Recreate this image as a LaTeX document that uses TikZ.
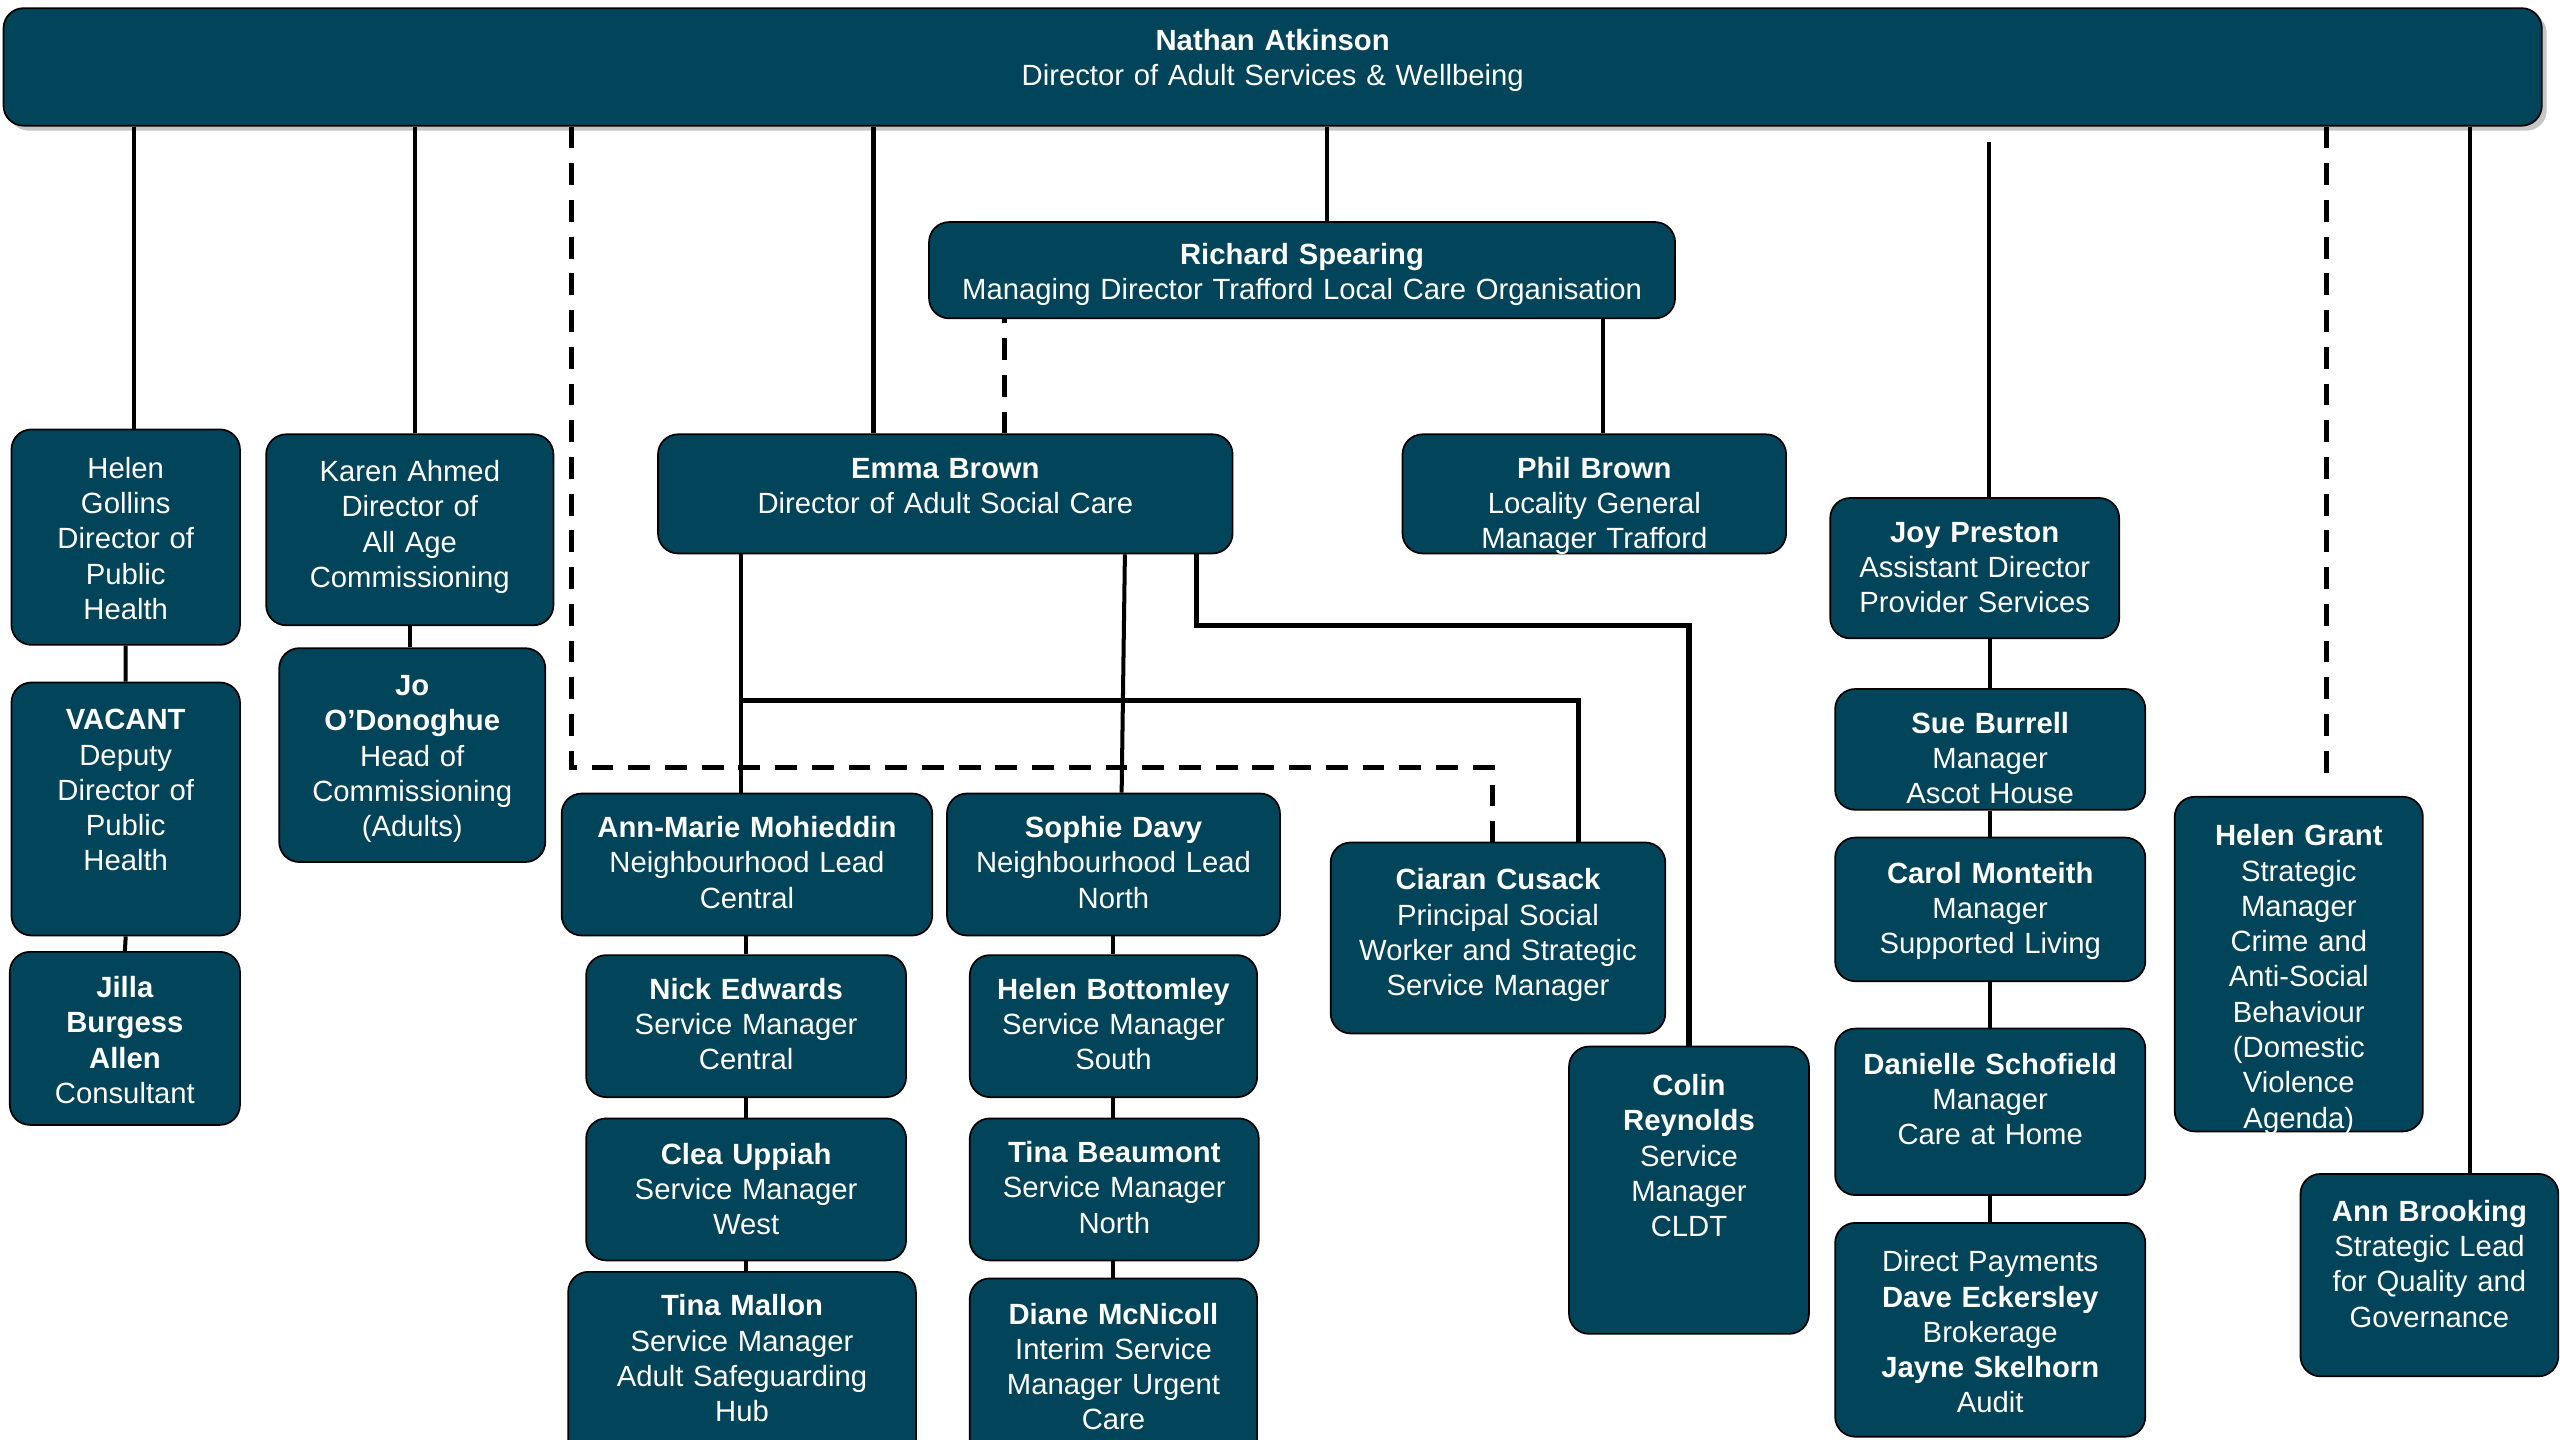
\documentclass[tikz,border=0pt]{standalone}
\usepackage{fontspec}
\setmainfont{Liberation Sans}
\usetikzlibrary{shadows}
\definecolor{postfill}{HTML}{02455A}

\tikzset{
  post/.style={draw=black, line width=0.6pt, fill=postfill, text=white,
    rounded corners=7pt, align=center, inner sep=0pt,
    font=\fontsize{10.2}{12.3}\selectfont},
  dims/.style n args={3}{text width=#1cm, minimum width=#1cm,
    text height=#2cm, text depth=#3cm},
  link/.style={line width=1.4pt},
  thick link/.style={line width=1.8pt},
  dotted link/.style={line width=1.7pt, dash pattern=on 7.6pt off 5.2pt},
}

\begin{document}
\begin{tikzpicture}[x=0.02cm, y=-0.02cm]
\useasboundingbox (0,0) rectangle (1568,882);
\clip (0,0) rectangle (1568,882);

% director
\node[post, dims={31.10}{0.52}{0.92},
  drop shadow={shadow xshift=1.7pt, shadow yshift=-1.7pt, opacity=0.45}]
  (na) at (779.5,41) {\textbf{Nathan Atkinson}\\Director of Adult Services \& Wellbeing};

% second level
\node[post, dims={9.14}{0.52}{0.66}] (rs) at (797.5,165.5) {\textbf{Richard Spearing}\\Managing Director Trafford Local Care Organisation};
\node[post, dims={7.04}{0.54}{0.92}] (eb) at (579,302.5) {\textbf{Emma Brown}\\Director of Adult Social Care};
\node[post, dims={4.70}{0.54}{0.92}] (pb) at (976.5,302.5) {\textbf{Phil Brown}\\Locality General\\Manager Trafford};

% public health and commissioning
\node[post, dims={2.80}{0.60}{2.04}] (hgo) at (77,329) {Helen\\Gollins\\Director of\\Public\\Health};
\node[post, dims={2.80}{0.58}{2.52}] (vac) at (77,495.5) {\textbf{VACANT}\\Deputy\\Director of\\Public\\Health};
\node[post, dims={2.82}{0.56}{1.56}] (jba) at (76.5,636) {\textbf{Jilla}\\\textbf{Burgess}\\\textbf{Allen}\\Consultant};
\node[post, dims={3.52}{0.58}{1.76}] (ka) at (251,324.5) {Karen Ahmed\\Director of\\All Age\\Commissioning};
\node[post, dims={3.26}{0.58}{2.04}] (jo) at (252.5,462.5) {\textbf{Jo}\\\textbf{O’Donoghue}\\Head of\\Commissioning\\(Adults)};

% neighbourhoods
\node[post, dims={4.54}{0.54}{1.20}] (amm) at (457.5,529.5) {\textbf{Ann-Marie Mohieddin}\\Neighbourhood Lead\\Central};
\node[post, dims={3.92}{0.54}{1.20}] (ne) at (457,628.5) {\textbf{Nick Edwards}\\Service Manager\\Central};
\node[post, dims={3.92}{0.56}{1.18}] (cu) at (457,728.5) {\textbf{Clea Uppiah}\\Service Manager\\West};
\node[post, dims={4.26}{0.54}{1.88}] (tm) at (454.5,839.5) {\textbf{Tina Mallon}\\Service Manager\\Adult Safeguarding\\Hub};
\node[post, dims={4.08}{0.54}{1.20}] (sd) at (682,529.5) {\textbf{Sophie Davy}\\Neighbourhood Lead\\North};
\node[post, dims={3.52}{0.54}{1.20}] (hb) at (682,628.5) {\textbf{Helen Bottomley}\\Service Manager\\South};
\node[post, dims={3.54}{0.54}{1.20}] (tb) at (682.5,728.5) {\textbf{Tina Beaumont}\\Service Manager\\North};
\node[post, dims={3.52}{0.56}{1.78}] (dm) at (682,841.5) {\textbf{Diane McNicoll}\\Interim Service\\Manager Urgent\\Care};
\node[post, dims={4.10}{0.58}{1.76}] (cc) at (917.5,574.5) {\textbf{Ciaran Cusack}\\Principal Social\\Worker and Strategic\\Service Manager};
\node[post, dims={2.94}{0.60}{2.92}] (cr) at (1034.5,729) {\textbf{Colin}\\\textbf{Reynolds}\\Service\\Manager\\CLDT};

% provider services
\node[post, dims={3.54}{0.54}{1.18}] (jp) at (1209.5,348) {\textbf{Joy Preston}\\Assistant Director\\Provider Services};
\node[post, dims={3.80}{0.54}{0.94}] (sb) at (1219,459) {\textbf{Sue Burrell}\\Manager\\Ascot House};
\node[post, dims={3.80}{0.56}{1.20}] (cm) at (1219,557) {\textbf{Carol Monteith}\\Manager\\Supported Living};
\node[post, dims={3.80}{0.56}{1.48}] (ds) at (1219,681) {\textbf{Danielle Schofield}\\Manager\\Care at Home};
\node[post, dims={3.80}{0.60}{2.02}] (dp) at (1219,814.5) {Direct Payments\\\textbf{Dave Eckersley}\\Brokerage\\\textbf{Jayne Skelhorn}\\Audit};

% strategic leads
\node[post, dims={3.04}{0.60}{3.50}] (hgr) at (1408,590.5) {\textbf{Helen Grant}\\Strategic\\Manager\\Crime and\\Anti-Social\\Behaviour\\(Domestic\\Violence\\Agenda)};
\node[post, dims={3.16}{0.58}{1.90}] (ab) at (1488,781) {\textbf{Ann Brooking}\\Strategic Lead\\for Quality and\\Governance};

% lines from the director
\draw[link] ([xshift=0.1cm]hgo.north) -- ([xshift=0.1cm]hgo.north |- na.south);
\draw[link] ([xshift=0.06cm]ka.north) -- ([xshift=0.06cm]ka.north |- na.south);
\coordinate (dashL) at (350,470);
\draw[dotted link] (na.south -| dashL) -- (dashL) -| ([xshift=-0.07cm]cc.north);
\draw[link] ([xshift=-0.88cm]eb.north) -- ([xshift=-0.88cm]eb.north |- na.south);
\draw[link] ([xshift=0.31cm]rs.north) -- ([xshift=0.31cm]rs.north |- na.south);
\draw[dotted link] ([xshift=0.72cm]eb.north) -- ([xshift=0.72cm]eb.north |- rs.south);
\draw[link] ([xshift=0.11cm]pb.north) -- ([xshift=0.11cm]pb.north |- rs.south);
\coordinate (jpTop) at (1218,87);
\draw[link] (jpTop) -- (jp.north -| jpTop);
\coordinate (hgrTop) at (1425,478);
\draw[dotted link] (na.south -| hgrTop) -- (hgrTop);
\draw[link] ([xshift=0.5cm]ab.north) -- ([xshift=0.5cm]ab.north |- na.south);

% lines from Emma Brown
\coordinate (ebJ) at (454,429);
\draw[link] (eb.south -| ebJ) -- (ebJ |- amm.north);
\draw[thick link] (ebJ) -| ([xshift=0.99cm]cc.north);
\draw[link] ([xshift=0.14cm]sd.north |- eb.south) -- ([xshift=0.1cm]sd.north);
\coordinate (ebR) at (733,383);
\draw[thick link] (eb.south -| ebR) -- (ebR) -| (cr.north);

% columns
\draw[link] (hgo.south) -- (vac.north) (vac.south) -- (jba.north);
\draw[link] (ka.south) -- (ka.south |- jo.north);
\draw[link] (ne.north |- amm.south) -- (ne.north) (ne.south) -- (cu.north)
  (cu.south) -- (cu.south |- tm.north);
\draw[link] (hb.north |- sd.south) -- (hb.north) (hb.south) -- (hb.south |- tb.north)
  (hb.south |- tb.south) -- (hb.south |- dm.north);
\draw[link] (sb.north |- jp.south) -- (sb.north) (sb.south) -- (cm.north)
  (cm.south) -- (ds.north) (ds.south) -- (dp.north);
\end{tikzpicture}
\end{document}
